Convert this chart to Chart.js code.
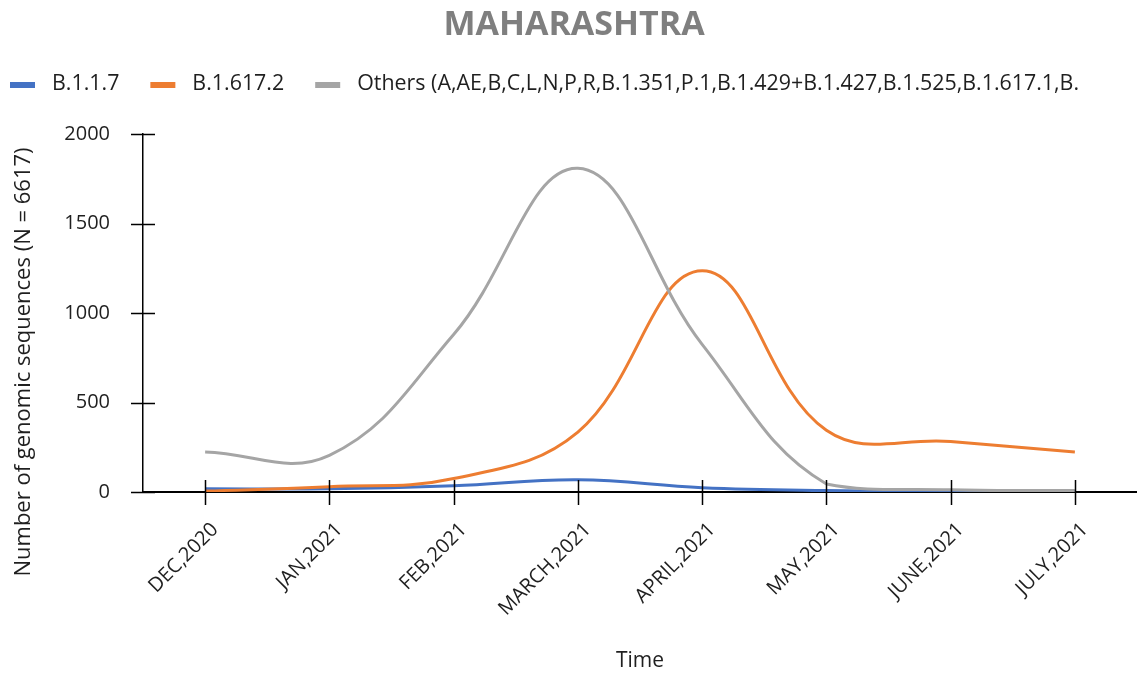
<!DOCTYPE html>
<html><head><meta charset="utf-8">
<style>html,body{margin:0;padding:0;background:#fff}#wrap{width:1137px;height:678px;position:relative}</style>
<script src="https://cdn.jsdelivr.net/npm/chart.js@4"></script>
</head><body><div id="wrap"><canvas id="c"></canvas></div>
<script>
const categories = ['DEC,2020','JAN,2021','FEB,2021','MARCH,2021','APRIL,2021','MAY,2021','JUNE,2021','JULY,2021'];
const seriesB117 = [18, 18, 35, 68, 24, 8, 4, 3];
const seriesB16172 = [5, 30, 75, 335, 1236, 345, 282, 224];
const seriesOthers = [224, 205, 880, 1808, 825, 45, 12, 8];
const seriesNames = ['B.1.1.7', 'B.1.617.2', 'Others (A,AE,B,C,L,N,P,R,B.1.351,P.1,B.1.429+B.1.427,B.1.525,B.1.617.1,B.'];
const seriesColors = ['#4472C4', '#ED7D31', '#A5A5A5'];
const yTicks = [0, 500, 1000, 1500, 2000];
const chartTitle = 'MAHARASHTRA';
const yTitle = 'Number of genomic sequences (N = 6617)';
const xTitle = 'Time';

const FONT = "'Open Sans', sans-serif";
const TEXT = '#1f1f1f';

const decor = {
  id: 'decor',
  afterDraw(chart) {
    const ctx = chart.ctx;
    ctx.save();
    // title
    ctx.fillStyle = '#7f7f7f';
    ctx.font = "bold 34px " + FONT;
    ctx.textAlign = 'center';
    ctx.textBaseline = 'middle';
    ctx.fillText(chartTitle, 574, 25);
    // legend
    ctx.font = "21.4px " + FONT;
    ctx.textAlign = 'left';
    let x = 10;
    chart.data.datasets.forEach((ds, i) => {
      ctx.fillStyle = ds.borderColor;
      ctx.fillRect(x, 82, 25, 6);
      x += 25 + 17;
      ctx.fillStyle = TEXT;
      ctx.fillText(ds.label, x, 84);
      x += ctx.measureText(ds.label).width + 31;
    });
    // y title
    ctx.save();
    ctx.translate(24, 362);
    ctx.rotate(-Math.PI / 2);
    ctx.textAlign = 'center';
    ctx.font = "22px " + FONT;
    ctx.fillStyle = TEXT;
    ctx.fillText(yTitle, 0, 0);
    ctx.restore();
    // crossing tick marks
    ctx.strokeStyle = '#000';
    ctx.lineWidth = 1.5;
    const xs = chart.scales.x, ys = chart.scales.y;
    const ca = chart.chartArea;
    ctx.beginPath();
    xs.ticks.forEach((t, i) => {
      const px = Math.round(xs.getPixelForTick(i)) + 0.5;
      ctx.moveTo(px, ca.bottom - 12); ctx.lineTo(px, ca.bottom + 13);
    });
    ys.ticks.forEach((t, i) => {
      const py = Math.round(ys.getPixelForTick(i)) + 0.5;
      ctx.moveTo(ca.left - 12, py); ctx.lineTo(ca.left + 12, py);
    });
    ctx.stroke();
    ctx.restore();
  }
};

const datasets = [seriesB117, seriesB16172, seriesOthers].map((d, i) => ({
  label: seriesNames[i],
  data: d,
  borderColor: seriesColors[i],
  backgroundColor: seriesColors[i],
  borderWidth: 3,
  pointRadius: 0,
  tension: 0.4,
  fill: false,
  order: 2 - i
}));

new Chart(document.getElementById('c'), {
  type: 'line',
  data: { labels: categories, datasets },
  options: {
    responsive: true,
    maintainAspectRatio: false,
    animation: false,
    layout: { padding: { top: 134, right: 0, bottom: 0, left: 0 } },
    plugins: { legend: { display: false }, title: { display: false }, tooltip: { enabled: false } },
    scales: {
      x: {
        type: 'category',
        offset: true,
        grid: { display: false, offset: false },
        border: { display: true, color: '#000', width: 2 },
        ticks: { minRotation: 45, maxRotation: 45, padding: 18, labelOffset: 10, color: TEXT, font: { family: FONT, size: 20 } },
        title: { display: true, text: xTitle, color: TEXT, font: { family: FONT, size: 21 }, padding: { top: 0, bottom: 4 } },
        afterFit(scale) { scale.height = 186; }
      },
      y: {
        min: 0, max: 2000,
        afterBuildTicks(scale) { scale.ticks = yTicks.map(v => ({ value: v })); },
        grid: { display: false },
        border: { display: true, color: '#000', width: 1.5 },
        ticks: { padding: 25, color: TEXT, font: { family: FONT, size: 20 }, callback: (v) => String(v) },
        afterFit(scale) { scale.width = 143; }
      }
    }
  },
  plugins: [decor]
});
</script>
</body></html>
